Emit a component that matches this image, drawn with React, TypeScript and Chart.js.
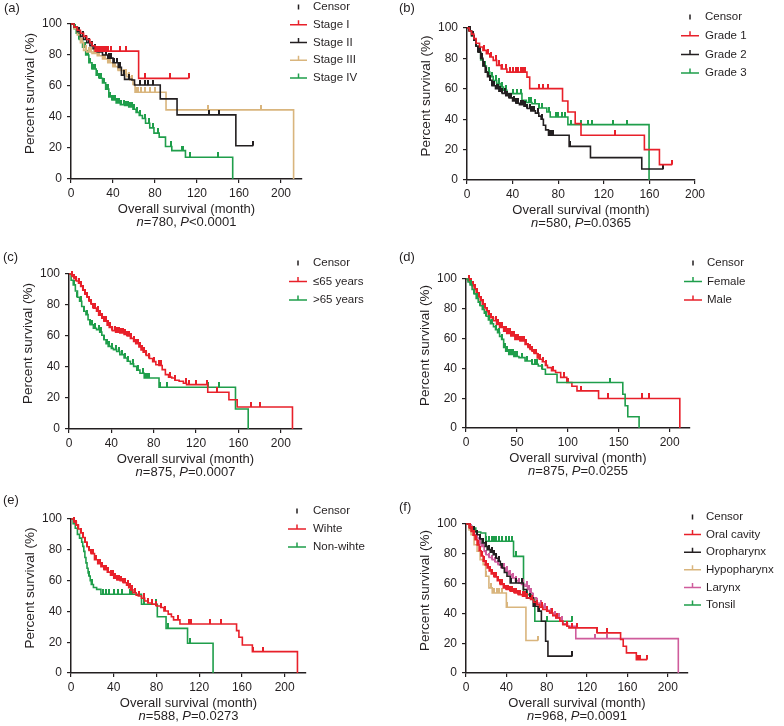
import React, { useEffect, useRef } from 'react';
import { Chart, registerables } from 'chart.js';

Chart.register(...registerables);

// ---------- tick labels ----------
const yTicks = [0, 20, 40, 60, 80, 100];
const xTicks40 = [0, 40, 80, 120, 160, 200];
const xTicks50 = [0, 50, 100, 150, 200];

// ---------- (a) stage ----------
const aStage1T = [0, 3, 6, 9, 12, 15, 18, 20, 23, 64.4, 112];
const aStage1S = [100, 98, 96, 94, 92, 90, 88, 86, 82.5, 64.9, 64.9];
const aStage1C = [25, 26, 27, 28, 29, 30, 31, 32, 33, 35, 38, 47, 52, 70, 94, 112];
const aStage2T = [0, 3, 6, 9, 12, 15, 18, 21, 25, 30, 35, 40, 45, 48, 51, 58, 60.5, 85, 101, 157, 173.6];
const aStage2S = [100, 98, 95, 92, 90, 88, 86, 84, 82, 80, 78, 75, 72, 67, 64.3, 63.9, 60.6, 51.7, 41.4, 21.5, 21.5];
const aStage2C = [8, 11, 14, 17, 20, 23, 26, 29, 33, 36, 38, 41, 44, 47, 50, 55, 66, 70, 73, 78, 131, 141, 173.6];
const aStage3T = [0, 3, 6, 9, 12, 15, 20, 25, 30, 35, 40, 45, 50, 53, 56, 59, 61, 90.5, 212];
const aStage3S = [100, 97, 93, 88, 83, 82, 81, 79.5, 77.5, 75, 72.5, 70, 68, 66, 64, 61, 56, 44.6, 0];
const aStage3C = [10, 14, 17, 19, 22, 24, 27, 30, 32, 35, 37, 40, 42, 45, 47, 50, 52, 55, 58, 62, 64, 67, 70, 75, 80, 130, 181];
const aStage4T = [0, 3, 5, 8, 11, 14, 17, 20, 24, 27, 30, 33, 36, 39, 43, 47, 51, 55, 59, 62, 65, 68, 71, 75, 79, 84, 90, 96, 109, 154];
const aStage4S = [100, 97, 94, 90, 85, 80, 75, 71, 67, 65, 62, 58, 53, 51, 49, 48, 47.4, 46.5, 45, 43, 41, 39, 36, 33, 29.6, 27, 21, 18.3, 14, 0];
const aStage4C = [4, 6, 8, 9, 11, 13, 15, 16, 18, 20, 22, 23, 25, 27, 29, 31, 33, 35, 37, 39, 40, 42, 44, 46, 48, 50, 52, 54, 56, 58, 60, 63, 66, 70, 74, 78, 83, 95, 106, 107, 113, 140];

// ---------- (b) grade ----------
const bGrade1T = [0, 2, 4, 6, 8, 11, 14, 17, 20, 23, 26, 30, 35, 52.6, 55, 83.8, 88.5, 94.9, 100, 155.6, 168.8, 180];
const bGrade1S = [100, 98, 96, 93, 90, 87.5, 85.3, 83.1, 80.9, 78.7, 75.4, 73, 71, 67.7, 60.1, 52, 44.7, 37.1, 29.4, 20, 10.1, 10.1];
const bGrade1C = [15, 18, 21, 25, 28, 31, 34, 38, 40, 43, 45, 47, 49, 51, 63, 67, 71, 130, 180];
const bGrade2T = [0, 2, 4, 6, 8, 10, 12, 14, 16, 18, 20, 22, 25, 28, 31, 34, 37, 40, 43, 46, 50, 53, 56, 60, 63, 65, 67, 69, 71.5, 89.6, 108.3, 153.3, 172.3];
const bGrade2S = [100, 98, 95, 92, 88, 84, 80, 75, 71, 68, 65.6, 62, 60, 58.5, 57, 55.5, 54, 52, 50.5, 49.5, 48.5, 47, 45.5, 44, 42, 40, 36, 33, 29.4, 22.1, 14.7, 7.2, 7.2];
const bGrade2C = [2, 3, 5, 6, 8, 10, 11, 13, 15, 17, 18, 20, 22, 24, 26, 27, 29, 31, 33, 35, 37, 39, 41, 43, 45, 47, 49, 51, 53, 55, 57, 59, 62, 66, 72, 74, 75, 90, 172.3];
const bGrade3T = [0, 2, 4, 6, 8, 10, 12, 14, 17, 20, 23, 26, 29, 32, 35, 48.2, 52, 57, 63, 70, 73, 88.5, 159.7];
const bGrade3S = [100, 98, 95, 92, 88, 84, 79, 75, 71, 68, 65.5, 63.5, 61.2, 59, 56.8, 52.4, 51, 50.2, 47.4, 44.7, 41.4, 36.4, 0];
const bGrade3C = [16, 19, 22, 25, 28, 31, 34, 40, 44, 47, 54, 56, 60, 63, 66, 72, 78, 80, 83, 86, 91, 100, 106, 110, 128, 140];

// ---------- (c) age ----------
const cYoungT = [0, 3, 5, 7, 9, 11, 13, 15, 17, 19, 21, 23, 26, 28, 31, 33, 36, 38, 41, 44, 48, 52, 55, 58, 61, 63, 66, 68, 70, 73, 76, 79, 82, 85, 88, 91, 94, 97, 100, 104, 108, 111, 131, 151, 158.8, 211];
const cYoungS = [100, 98.5, 97, 95.5, 94, 92, 89.5, 87, 85, 82.5, 80.5, 78, 76, 73.5, 71.5, 69.5, 67, 65.5, 63.5, 62.5, 62, 61, 60, 58.5, 56.5, 55, 53, 51, 49.5, 47.5, 45.5, 43.5, 41.5, 41, 38.3, 35.1, 33.5, 32.9, 31.5, 30.8, 29.5, 28.6, 23.7, 18.9, 14.2, 0];
const cYoungC = [3, 5, 7, 9, 11, 13, 15, 17, 19, 21, 23, 25, 27, 29, 31, 33, 35, 37, 39, 41, 43, 45, 47, 49, 51, 53, 55, 57, 59, 61, 63, 65, 67, 69, 71, 73, 76, 80, 85, 87, 95, 100, 110, 113, 120, 130, 140, 172, 180];
const cOldT = [0, 2, 4, 6, 8, 10, 12, 14, 16, 18, 20, 23, 26, 29, 31, 33, 35, 37, 40, 42, 45, 48, 52, 55, 58, 61, 64, 67, 71, 85, 157.2, 169.2];
const cOldS = [100, 96, 93, 89, 85, 82.4, 79, 76, 73.8, 70.5, 67.3, 65, 64.1, 62.5, 60.5, 57.6, 55, 53.3, 52, 51.2, 50, 48, 45.8, 43.7, 42, 40.4, 38, 36, 32.9, 26.9, 12.9, 0];
const cOldC = [5, 8, 11, 14, 17, 20, 22, 25, 28, 30, 33, 36, 38, 41, 44, 47, 50, 53, 56, 60, 65, 70, 72, 74, 76, 86, 93, 131, 142];

// ---------- (d) gender ----------
const dFemaleT = [0, 2, 4, 6, 8, 10, 12, 14, 16, 18, 20, 22, 24, 27, 29, 31, 33, 35, 37, 39, 42, 47, 52, 58, 65, 71, 75, 78, 89.4, 154, 156.3, 158.9, 170];
const dFemaleS = [100, 98, 96, 93, 90, 87, 84.5, 82, 79.5, 77, 75, 72.5, 70, 68, 66, 64, 61.5, 59.5, 54, 51.5, 49.4, 48, 47.2, 45, 42.8, 41.6, 39.4, 36.1, 30.5, 22.7, 14.9, 7.6, 0];
const dFemaleC = [5, 8, 11, 14, 17, 20, 23, 26, 29, 32, 35, 38, 40, 42, 44, 46, 48, 50, 55, 60, 65, 68, 70, 75, 141];
const dMaleT = [0, 2, 4, 6, 8, 10, 12, 14, 16, 18, 20, 22, 24, 27, 30, 33, 37, 40, 44, 48, 53, 58, 61, 63, 65, 67, 70, 72, 75, 78, 80, 84, 88, 93, 99, 104, 109, 130.2, 210];
const dMaleS = [100, 99, 97.5, 95.5, 93, 90.5, 88, 85.5, 83, 80.5, 78, 76, 74, 72, 69.5, 67.5, 65, 63.5, 61.7, 59.5, 58.4, 56.1, 54, 52.8, 51.5, 50, 47, 46.1, 44.5, 42, 40.5, 38.5, 37.2, 34, 30.5, 28, 24.9, 19.8, 0];
const dMaleC = [3, 5, 7, 9, 11, 13, 15, 17, 19, 21, 23, 25, 27, 29, 31, 33, 35, 37, 39, 41, 43, 45, 47, 49, 51, 53, 55, 57, 59, 61, 63, 65, 67, 69, 71, 73, 76, 79, 85, 96, 100, 113, 139, 173, 180];

// ---------- (e) race ----------
const eWhiteT = [0, 3, 5, 7, 9, 11, 13, 15, 17, 19, 22, 25, 28, 31, 34, 37, 40, 43, 46, 49, 52, 54, 56, 58, 61, 63, 66, 69, 72, 76, 80, 84, 87, 91, 94, 96, 102, 155, 157.2, 160.4, 169.8, 212];
const eWhiteS = [100, 98, 96, 93.5, 91, 88, 85, 82, 79.5, 77.5, 73.5, 71, 69, 67, 65.5, 63.5, 61.5, 60.5, 60, 58.6, 57, 55.4, 54, 52.1, 50.5, 50, 48.5, 46.8, 45.5, 44.6, 43.5, 42.5, 40.3, 38.2, 36.5, 34.5, 31.8, 27.5, 23.2, 18.2, 13.9, 0];
const eWhiteC = [3, 5, 7, 9, 11, 13, 15, 17, 19, 21, 23, 25, 27, 29, 31, 33, 35, 37, 39, 41, 43, 45, 47, 49, 51, 53, 55, 57, 60, 64, 68, 72, 76, 80, 84, 88, 100, 110, 112, 130, 140, 170, 180];
const eNonWhiteT = [0, 2, 4, 6, 8, 10, 11, 12, 13, 14, 15, 16, 17, 18, 19, 21, 24, 28, 66, 80.8, 89, 109.1, 133];
const eNonWhiteS = [100, 97, 94, 90, 87.6, 85, 82.2, 79, 75, 71.5, 68, 65, 62.9, 60, 57.5, 55.5, 54.3, 51.1, 44.6, 36.5, 29, 19.3, 0];
const eNonWhiteC = [17, 20, 30, 33, 36, 40, 44, 48, 55, 57, 68, 80, 91, 111];

// ---------- (f) site ----------
const fOralT = [0, 3, 5, 7, 9, 11, 13, 15, 17, 19, 21, 23, 25, 28, 31, 34, 37, 40, 44, 48, 52, 56, 60, 64, 67, 70, 73, 76, 80, 83, 86, 89, 93, 96, 100, 102, 130, 153.2, 155.8, 159, 168.8, 179.5];
const fOralS = [100, 97.5, 95, 92.5, 89.5, 86, 82, 78.5, 75, 72.5, 70.5, 68.5, 66.5, 64.5, 62, 59.5, 57.1, 56, 54.9, 53.8, 52.6, 51.5, 50.4, 49.3, 47.5, 45.9, 44.2, 42.6, 41.5, 40.3, 38.7, 37, 34.8, 32.5, 31.4, 30.3, 26.9, 22.5, 18, 13.5, 9, 9];
const fOralC = [4, 6, 8, 10, 12, 14, 16, 18, 20, 22, 24, 26, 28, 30, 32, 34, 36, 38, 40, 42, 44, 46, 48, 50, 52, 54, 56, 58, 60, 65, 70, 75, 80, 85, 90, 100, 105, 110, 130, 140, 170, 172, 179.5];
const fOroT = [0, 4, 8, 11, 14, 16, 19, 21, 24, 27, 30, 32, 34, 36, 38, 40.6, 43.8, 56.8, 60, 66.6, 71.4, 74.7, 78.9, 81.2, 105.5];
const fOroS = [100, 97.3, 95, 92.8, 90, 87.3, 85, 82.8, 81, 79.4, 77, 75, 72.5, 70.5, 67.5, 64.9, 60.4, 56, 50.4, 44.8, 41.5, 34.7, 21.3, 11.3, 11.3];
const fOroC = [8, 11, 14, 17, 20, 23, 26, 28, 30, 33, 36, 45, 50, 55, 63, 68, 72, 105.5];
const fHypoT = [0, 3, 5, 8, 11, 14, 17, 19.5, 22.7, 26, 40, 59.4, 71.4];
const fHypoS = [100, 96, 92.8, 86.1, 81.7, 76.1, 72.7, 64.9, 57.1, 53.7, 44.1, 21.8, 21.8];
const fHypoC = [20, 25, 28, 31, 33, 36, 41, 71.4];
const fLarynxT = [0, 3, 5, 8, 10, 13, 15, 18, 20, 23, 26, 29, 32, 35, 39, 42, 45.5, 49, 52, 55, 58.4, 61, 63.3, 66, 69.8, 73, 76.3, 80, 82.8, 86, 89.3, 93, 95.8, 100.6, 108.8, 210.4];
const fLarynxS = [100, 98, 96.5, 93, 90.6, 87, 85, 81.5, 79.4, 77.5, 76.1, 74.5, 72.7, 70.5, 68.3, 66, 63.8, 62, 60.4, 59.5, 58.2, 56, 53.7, 50.5, 47, 45.5, 43.7, 42, 40.3, 38.5, 37, 35, 33, 31.4, 23.1, 0];
const fLarynxC = [5, 8, 11, 14, 17, 20, 23, 26, 29, 32, 35, 38, 41, 44, 47, 50, 53, 56, 60, 62, 64, 66, 70, 74, 78, 84, 88, 92, 95, 128, 140];
const fTonsilT = [0, 3, 6, 9.7, 14.6, 19.5, 47.1, 57, 65, 68.2, 105.5];
const fTonsilS = [100, 98.5, 97.3, 94.6, 94, 88.4, 78.3, 52.6, 50, 34.7, 34.7];
const fTonsilC = [20, 23, 26, 28, 30, 33, 36, 40, 43, 46, 50, 60, 80, 105.5];

// ---------- statistics text ----------
const nValues = ['780', '580', '875', '875', '588', '968'];
const pValues = ['<0.0001', '=0.0365', '=0.0007', '=0.0255', '=0.0273', '=0.0091'];

// ---------- styles ----------
const FONT = "Arial, 'Liberation Sans', Helvetica, sans-serif";
const RED = '#e8202a';
const BLACK = '#231f20';
const TAN = '#d9b57d';
const GREEN = '#1f9e4b';
const PINK = '#cf5c9c';

type Curve = { label: string; color: string; t: number[]; s: number[]; c: number[] };
type Panel = {
  tag: string; x: number; y: number; w: number; h: number;
  l: number; t: number; r: number; b: number;
  xMax: number; xTicks: number[];
  tagX: number; tagY: number;
  lx1: number; lx2: number; tx: number; ly0: number; lstep: number;
  n: string; p: string;
  curves: Curve[];
};

const panels: Panel[] = [
  {
    tag: '(a)', x: 0, y: 0, w: 392, h: 240, l: 71, t: 24, r: 302, b: 179, xMax: 220, xTicks: xTicks40,
    tagX: 4, tagY: 8, lx1: 290, lx2: 307, tx: 313, ly0: 7, lstep: 17.75, n: nValues[0], p: pValues[0],
    curves: [
      { label: 'Stage I', color: RED, t: aStage1T, s: aStage1S, c: aStage1C },
      { label: 'Stage II', color: BLACK, t: aStage2T, s: aStage2S, c: aStage2C },
      { label: 'Stage III', color: TAN, t: aStage3T, s: aStage3S, c: aStage3C },
      { label: 'Stage IV', color: GREEN, t: aStage4T, s: aStage4S, c: aStage4C },
    ],
  },
  {
    tag: '(b)', x: 392, y: 0, w: 392, h: 240, l: 75, t: 28, r: 303, b: 180, xMax: 200, xTicks: xTicks40,
    tagX: 7, tagY: 8, lx1: 289, lx2: 307, tx: 313, ly0: 17, lstep: 18.7, n: nValues[1], p: pValues[1],
    curves: [
      { label: 'Grade 1', color: RED, t: bGrade1T, s: bGrade1S, c: bGrade1C },
      { label: 'Grade 2', color: BLACK, t: bGrade2T, s: bGrade2S, c: bGrade2C },
      { label: 'Grade 3', color: GREEN, t: bGrade3T, s: bGrade3S, c: bGrade3C },
    ],
  },
  {
    tag: '(c)', x: 0, y: 240, w: 392, h: 240, l: 69, t: 34, r: 302, b: 189, xMax: 220, xTicks: xTicks40,
    tagX: 3, tagY: 17, lx1: 289, lx2: 307, tx: 313, ly0: 23, lstep: 18.5, n: nValues[2], p: pValues[2],
    curves: [
      { label: '≤65 years', color: RED, t: cYoungT, s: cYoungS, c: cYoungC },
      { label: '>65 years', color: GREEN, t: cOldT, s: cOldS, c: cOldC },
    ],
  },
  {
    tag: '(d)', x: 392, y: 240, w: 392, h: 240, l: 74, t: 39, r: 298, b: 188, xMax: 220, xTicks: xTicks50,
    tagX: 7, tagY: 17, lx1: 292, lx2: 310, tx: 315, ly0: 23, lstep: 18.5, n: nValues[3], p: pValues[3],
    curves: [
      { label: 'Female', color: GREEN, t: dFemaleT, s: dFemaleS, c: dFemaleC },
      { label: 'Male', color: RED, t: dMaleT, s: dMaleS, c: dMaleC },
    ],
  },
  {
    tag: '(e)', x: 0, y: 480, w: 392, h: 246, l: 71, t: 39, r: 306, b: 193, xMax: 220, xTicks: xTicks40,
    tagX: 3, tagY: 20, lx1: 288, lx2: 306, tx: 313, ly0: 31, lstep: 18, n: nValues[4], p: pValues[4],
    curves: [
      { label: 'Wihte', color: RED, t: eWhiteT, s: eWhiteS, c: eWhiteC },
      { label: 'Non-wihte', color: GREEN, t: eNonWhiteT, s: eNonWhiteS, c: eNonWhiteC },
    ],
  },
  {
    tag: '(f)', x: 392, y: 480, w: 392, h: 246, l: 74, t: 44, r: 296, b: 193, xMax: 220, xTicks: xTicks40,
    tagX: 7, tagY: 27, lx1: 292, lx2: 309, tx: 314, ly0: 37, lstep: 17.6, n: nValues[5], p: pValues[5],
    curves: [
      { label: 'Oral cavity', color: RED, t: fOralT, s: fOralS, c: fOralC },
      { label: 'Oropharynx', color: BLACK, t: fOroT, s: fOroS, c: fOroC },
      { label: 'Hypopharynx', color: TAN, t: fHypoT, s: fHypoS, c: fHypoC },
      { label: 'Larynx', color: PINK, t: fLarynxT, s: fLarynxS, c: fLarynxC },
      { label: 'Tonsil', color: GREEN, t: fTonsilT, s: fTonsilS, c: fTonsilC },
    ],
  },
];

function stepAt(time: number, ts: number[], ss: number[]): number {
  let v = ss[0];
  for (let i = 0; i < ts.length; i++) {
    if (ts[i] <= time) v = ss[i];
    else break;
  }
  return v;
}

function makeTick(color: string): HTMLCanvasElement {
  const c = document.createElement('canvas');
  c.width = 2;
  c.height = 10;
  const g = c.getContext('2d')!;
  g.fillStyle = color;
  g.fillRect(0, 0, 2, 5);
  return c;
}

function textPlugin(p: Panel) {
  return {
    id: 'kmText',
    afterDraw(chart: any) {
      const ctx: CanvasRenderingContext2D = chart.ctx;
      const a = chart.chartArea;
      ctx.save();
      ctx.fillStyle = BLACK;
      ctx.textBaseline = 'middle';
      // panel tag
      ctx.textAlign = 'left';
      ctx.font = `13px ${FONT}`;
      ctx.fillText(p.tag, p.tagX, p.tagY);
      // y title
      ctx.save();
      ctx.translate(a.left - 41, (a.top + a.bottom) / 2 - 8);
      ctx.rotate(-Math.PI / 2);
      ctx.textAlign = 'center';
      ctx.font = `13.5px ${FONT}`;
      ctx.fillText('Percent survival (%)', 0, 0);
      ctx.restore();
      // x title
      const cx = (a.left + a.right) / 2;
      ctx.textAlign = 'center';
      ctx.font = `13px ${FONT}`;
      ctx.fillText('Overall survival (month)', cx, a.bottom + 30);
      // subtitle with italics
      const parts = [
        { s: 'n', it: true },
        { s: '=' + p.n + ', ', it: false },
        { s: 'P', it: true },
        { s: p.p, it: false },
      ];
      let total = 0;
      const widths = parts.map((pt) => {
        ctx.font = `${pt.it ? 'italic ' : ''}13px ${FONT}`;
        const w = ctx.measureText(pt.s).width;
        total += w;
        return w;
      });
      let x = cx - total / 2;
      ctx.textAlign = 'left';
      parts.forEach((pt, i) => {
        ctx.font = `${pt.it ? 'italic ' : ''}13px ${FONT}`;
        ctx.fillText(pt.s, x, a.bottom + 43);
        x += widths[i];
      });
      // legend
      ctx.font = `11.5px ${FONT}`;
      const mid = (p.lx1 + p.lx2) / 2;
      ctx.fillStyle = BLACK;
      ctx.fillRect(mid - 0.75, p.ly0 - 2.5, 1.5, 5);
      ctx.fillText('Censor', p.tx, p.ly0);
      p.curves.forEach((cv, i) => {
        const y = p.ly0 + (i + 1) * p.lstep;
        ctx.strokeStyle = cv.color;
        ctx.lineWidth = 1.5;
        ctx.beginPath();
        ctx.moveTo(p.lx1, y);
        ctx.lineTo(p.lx2, y);
        ctx.moveTo(mid, y);
        ctx.lineTo(mid, y - 4.5);
        ctx.stroke();
        ctx.fillStyle = BLACK;
        ctx.fillText(cv.label, p.tx, y);
      });
      ctx.restore();
    },
  };
}

function KMPanel({ p }: { p: Panel }) {
  const ref = useRef<HTMLCanvasElement>(null);
  useEffect(() => {
    const canvas = ref.current;
    if (!canvas) return;
    const datasets: any[] = [];
    p.curves.forEach((cv) => {
      datasets.push({
        label: cv.label,
        data: cv.t.map((t, i) => ({ x: t, y: cv.s[i] })),
        borderColor: cv.color,
        backgroundColor: cv.color,
        borderWidth: 1.6,
        pointRadius: 0,
        stepped: true,
        fill: false,
        tension: 0,
        borderJoinStyle: 'miter',
        clip: false,
      });
      const tick = makeTick(cv.color);
      datasets.push({
        label: cv.label + ' censor',
        data: cv.c.map((t) => ({ x: t, y: stepAt(t, cv.t, cv.s) })),
        showLine: false,
        pointStyle: tick,
        pointRadius: 3,
        pointHoverRadius: 3,
        borderColor: cv.color,
        backgroundColor: cv.color,
        clip: false,
      });
    });
    const axisCommon = {
      type: 'linear' as const,
      grid: {
        display: true,
        drawOnChartArea: false,
        drawTicks: true,
        tickLength: 4,
        color: BLACK,
        lineWidth: 1.2,
      },
      border: { display: true, color: BLACK, width: 1.5 },
    };
    const chart = new Chart(canvas, {
      type: 'line',
      data: { datasets },
      options: {
        responsive: false,
        animation: false,
        devicePixelRatio: 1,
        events: [],
        layout: { padding: { left: 0, top: p.t, right: p.w - p.r, bottom: 0 } },
        plugins: { legend: { display: false }, tooltip: { enabled: false }, title: { display: false } },
        scales: {
          x: {
            ...axisCommon,
            min: 0,
            max: p.xMax,
            afterBuildTicks: (s: any) => {
              s.ticks = p.xTicks.map((v) => ({ value: v }));
            },
            afterFit: (s: any) => {
              s.height = p.h - p.b;
            },
            ticks: { color: BLACK, font: { family: FONT, size: 12 }, padding: 3, maxRotation: 0, autoSkip: false },
          },
          y: {
            ...axisCommon,
            min: 0,
            max: 100,
            afterBuildTicks: (s: any) => {
              s.ticks = yTicks.map((v) => ({ value: v }));
            },
            afterFit: (s: any) => {
              s.width = p.l;
            },
            ticks: { color: BLACK, font: { family: FONT, size: 12 }, padding: 5, autoSkip: false },
          },
        },
      } as any,
      plugins: [textPlugin(p) as any],
    });
    return () => chart.destroy();
  }, [p]);
  return (
    <canvas
      ref={ref}
      width={p.w}
      height={p.h}
      style={{ position: 'absolute', left: p.x, top: p.y, width: p.w, height: p.h }}
    />
  );
}

export default function App() {
  return (
    <div style={{ position: 'absolute', left: 0, top: 0, width: 784, height: 726, background: '#ffffff' }}>
      {panels.map((p) => (
        <KMPanel key={p.tag} p={p} />
      ))}
    </div>
  );
}
